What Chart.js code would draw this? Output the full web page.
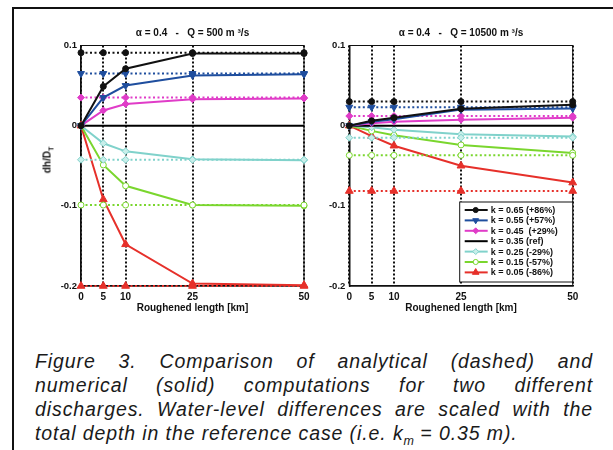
<!DOCTYPE html>
<html lang="en">
<head>
<meta charset="UTF-8">
<title>Figure 3 - analytical vs numerical</title>
<script src="https://cdn.jsdelivr.net/npm/chart.js@4/dist/chart.umd.min.js"></script>
<style>
    body {
        margin: 0;
        width: 613px;
        height: 450px;
        overflow: hidden;
        position: relative;
        background: #fff;
        font-family: "Liberation Sans", Arial, sans-serif;
        color: #111;
    }
    .frame {
        position: absolute;
        left: 12px;
        top: 7px;
        width: 650px;
        height: 500px;
        border-left: 2px solid #111;
        border-top: 2px solid #111;
    }
    canvas { position: absolute; top: 14px; }
    #chartLeft { left: 20px; }
    #chartRight { left: 315px; }
    .ylab {
        position: absolute;
        left: 47px;
        top: 160px;
        transform: translate(-50%, -50%) rotate(-90deg);
        font: bold 10px "Liberation Sans", Arial, sans-serif;
        white-space: nowrap;
    }
    .ylab sub { font-size: 7px; line-height: 0; }
    .caption {
        position: absolute;
        left: 35px;
        top: 349px;
        width: 558px;
        font-style: italic;
        font-size: 19.5px;
        letter-spacing: 0.9px;
        line-height: 24px;
        color: #1a1a1a;
    }
    .caption div { text-align: justify; text-align-last: justify; white-space: nowrap; }
    .caption div.last { text-align-last: left; }
    .caption sub { font-size: 12.5px; line-height: 0; letter-spacing: 0; }
</style>
</head>
<body>
<div class="frame"></div>
<canvas id="chartLeft" width="295" height="310"></canvas>
<canvas id="chartRight" width="295" height="310"></canvas>
<div class="ylab">dh/D<sub>T</sub></div>
<div class="caption">
    <div>Figure 3. Comparison of analytical (dashed) and</div>
    <div>numerical (solid) computations for two different</div>
    <div>discharges. Water-level differences are scaled with the</div>
    <div class="last">total depth in the reference case (i.e. k<sub>m</sub> = 0.35 m).</div>
</div>
<script>
    // roughened length positions (km) and y tick values
    const xKm = [0, 5, 10, 25, 50];
    const yTicks = [-0.2, -0.1, 0, 0.1];
    const kLabels = ['k = 0.65 (+86%)', 'k = 0.55 (+57%)', 'k = 0.45  (+29%)', 'k = 0.35 (ref)',
                     'k = 0.25 (-29%)', 'k = 0.15 (-57%)', 'k = 0.05 (-86%)'];

    // Q = 500 m3/s, numerical (solid)
    const num500_065 = [0, 0.049, 0.071, 0.090, 0.090];
    const num500_055 = [0, 0.035, 0.050, 0.0625, 0.064];
    const num500_045 = [0, 0.019, 0.027, 0.033, 0.034];
    const num500_035 = [0, 0, 0, 0, 0];
    const num500_025 = [0, -0.022, -0.032, -0.042, -0.043];
    const num500_015 = [0, -0.049, -0.075, -0.099, -0.100];
    const num500_005 = [0, -0.092, -0.148, -0.197, -0.199];
    // Q = 500 m3/s, analytical (dashed)
    const ana500_065 = [0.091, 0.091, 0.091, 0.091, 0.091];
    const ana500_055 = [0.065, 0.065, 0.065, 0.065, 0.065];
    const ana500_045 = [0.035, 0.035, 0.035, 0.035, 0.035];
    const ana500_025 = [-0.0425, -0.0425, -0.0425, -0.0425, -0.0425];
    const ana500_015 = [-0.099, -0.099, -0.099, -0.099, -0.099];
    const ana500_005 = [-0.2, -0.2, -0.2, -0.2, -0.2];

    // Q = 10500 m3/s, numerical (solid)
    const num10500_065 = [0, 0.006, 0.010, 0.021, 0.026];
    const num10500_055 = [0, 0.005, 0.008, 0.020, 0.0215];
    const num10500_045 = [0, 0.003, 0.005, 0.0075, 0.010];
    const num10500_035 = [0, 0, 0, 0, 0];
    const num10500_025 = [0, -0.002, -0.005, -0.0106, -0.0135];
    const num10500_015 = [0, -0.0065, -0.012, -0.024, -0.034];
    const num10500_005 = [0, -0.013, -0.025, -0.050, -0.071];
    // Q = 10500 m3/s, analytical (dashed)
    const ana10500_065 = [0.030, 0.030, 0.030, 0.030, 0.030];
    const ana10500_055 = [0.023, 0.023, 0.023, 0.023, 0.023];
    const ana10500_045 = [0.012, 0.012, 0.012, 0.012, 0.012];
    const ana10500_025 = [-0.015, -0.015, -0.015, -0.015, -0.015];
    const ana10500_015 = [-0.037, -0.037, -0.037, -0.037, -0.037];
    const ana10500_005 = [-0.0815, -0.0815, -0.0815, -0.0815, -0.0815];

    const styles = [
        { color: '#111111', fill: '#111111', point: 'circle', rot: 0, r: 3 },
        { color: '#1f4e9e', fill: '#1f4e9e', point: 'triangle', rot: 180, r: 4 },
        { color: '#e03cc8', fill: '#e03cc8', point: 'rectRot', rot: 0, r: 3.5 },
        { color: '#000000', fill: '#000000', point: false, rot: 0, r: 0 },
        { color: '#80d2cb', fill: '#c8eeea', point: 'rectRot', rot: 0, r: 3.5 },
        { color: '#7ad62e', fill: '#ffffff', point: 'circle', rot: 0, r: 3 },
        { color: '#e6302a', fill: '#e6302a', point: 'triangle', rot: 0, r: 4.5 }
    ];

    Chart.defaults.color = '#111';
    Chart.defaults.font.family = '"Liberation Sans", Arial, sans-serif';

    function toPoints(arr) {
        return xKm.map((x, j) => ({ x: x, y: arr[j] }));
    }

    function buildDatasets(num, ana) {
        const sets = [];
        styles.forEach((s, i) => {
            if (ana[i]) {
                sets.push({
                    label: kLabels[i] + ' analytical',
                    data: toPoints(ana[i]),
                    analytic: true,
                    borderColor: s.color,
                    borderWidth: 2,
                    borderDash: [2, 2.5],
                    pointStyle: s.point,
                    pointRotation: s.rot,
                    pointRadius: s.r,
                    pointBackgroundColor: s.fill,
                    pointBorderColor: s.color,
                    pointBorderWidth: 1,
                    clip: false
                });
            }
            sets.push({
                label: kLabels[i],
                data: toPoints(num[i]),
                borderColor: s.color,
                borderWidth: 2,
                pointStyle: s.point,
                pointRotation: s.rot,
                pointRadius: s.r,
                pointBackgroundColor: s.fill,
                pointBorderColor: s.color,
                pointBorderWidth: 1,
                clip: false
            });
        });
        return sets;
    }

    // thin box on top and right, matlab style
    const boxPlugin = {
        id: 'boxPlugin',
        beforeDatasetsDraw(chart) {
            const a = chart.chartArea, ctx = chart.ctx;
            ctx.save();
            ctx.strokeStyle = '#111';
            ctx.lineWidth = 1;
            ctx.strokeRect(a.left, a.top, a.right - a.left, a.bottom - a.top);
            ctx.restore();
        }
    };

    // legend box in the lower right corner of the plot
    const legendInside = {
        id: 'legendInside',
        afterDraw(chart) {
            const a = chart.chartArea, ctx = chart.ctx;
            const w = 113, h = 80, rowH = 10.4;
            const x0 = a.right - w, y0 = a.bottom - 4 - h;
            ctx.save();
            ctx.fillStyle = '#fff';
            ctx.fillRect(x0, y0, w, h);
            ctx.strokeStyle = '#111';
            ctx.lineWidth = 1;
            ctx.strokeRect(x0, y0, w, h);
            const items = chart.data.datasets.filter(d => !d.analytic);
            items.forEach((d, i) => {
                const y = y0 + 8 + i * rowH;
                ctx.strokeStyle = d.borderColor;
                ctx.lineWidth = 2;
                ctx.setLineDash([]);
                ctx.beginPath();
                ctx.moveTo(x0 + 5, y);
                ctx.lineTo(x0 + 28, y);
                ctx.stroke();
                if (d.pointStyle) {
                    ctx.fillStyle = d.pointBackgroundColor;
                    ctx.strokeStyle = d.pointBorderColor;
                    ctx.lineWidth = 1;
                    Chart.helpers.drawPoint(ctx, {
                        pointStyle: d.pointStyle, rotation: d.pointRotation,
                        radius: d.pointRadius * 0.85, borderWidth: 1
                    }, x0 + 16, y);
                }
                ctx.fillStyle = '#111';
                ctx.font = 'bold 9px "Liberation Sans", Arial, sans-serif';
                ctx.textBaseline = 'middle';
                ctx.textAlign = 'left';
                ctx.fillText(d.label, x0 + 31, y + 0.5);
            });
            ctx.restore();
        }
    };

    function makeChart(id, title, num, ana, yAxisWidth, padRight, plugins) {
        return new Chart(document.getElementById(id), {
            type: 'line',
            data: { datasets: buildDatasets(num, ana) },
            options: {
                responsive: false,
                animation: false,
                layout: { padding: { left: 0, right: padRight, top: 0, bottom: 0 } },
                plugins: {
                    legend: { display: false },
                    tooltip: { enabled: false },
                    title: {
                        display: true,
                        text: title,
                        fullSize: false,
                        font: { size: 10, weight: 'bold' },
                        padding: { top: 13, bottom: 6.5 }
                    }
                },
                scales: {
                    x: {
                        type: 'linear',
                        min: 0,
                        max: 50,
                        afterBuildTicks: s => { s.ticks = xKm.map(v => ({ value: v })); },
                        afterFit: s => { s.height = 38; },
                        grid: { color: '#111', lineWidth: 2, drawTicks: false },
                        border: { display: true, color: '#111', width: 1.5, dash: [2, 2] },
                        ticks: {
                            padding: 5,
                            maxRotation: 0,
                            font: { size: 10, weight: 'bold' },
                            callback: v => String(v)
                        },
                        title: {
                            display: true,
                            text: 'Roughened length [km]',
                            font: { size: 10, weight: 'bold' },
                            padding: { top: 0, bottom: 10 }
                        }
                    },
                    y: {
                        min: -0.2,
                        max: 0.1,
                        afterBuildTicks: s => { s.ticks = yTicks.map(v => ({ value: v })); },
                        afterFit: s => { s.width = yAxisWidth; },
                        grid: { display: false, drawTicks: false },
                        border: { display: true, color: '#111', width: 1.5 },
                        ticks: {
                            padding: 4,
                            font: { size: 9.5, weight: 'bold' },
                            callback: v => (v === 0 ? '0' : v.toFixed(1))
                        }
                    }
                }
            },
            plugins: plugins
        });
    }

    makeChart('chartLeft', 'α = 0.4   -   Q = 500 m ³/s',
        [num500_065, num500_055, num500_045, num500_035, num500_025, num500_015, num500_005],
        [ana500_065, ana500_055, ana500_045, null, ana500_025, ana500_015, ana500_005],
        61, 11, [boxPlugin]);

    makeChart('chartRight', 'α = 0.4   -   Q = 10500 m ³/s',
        [num10500_065, num10500_055, num10500_045, num10500_035, num10500_025, num10500_015, num10500_005],
        [ana10500_065, ana10500_055, ana10500_045, null, ana10500_025, ana10500_015, ana10500_005],
        34.3, 37.3, [boxPlugin, legendInside]);
</script>
</body>
</html>
